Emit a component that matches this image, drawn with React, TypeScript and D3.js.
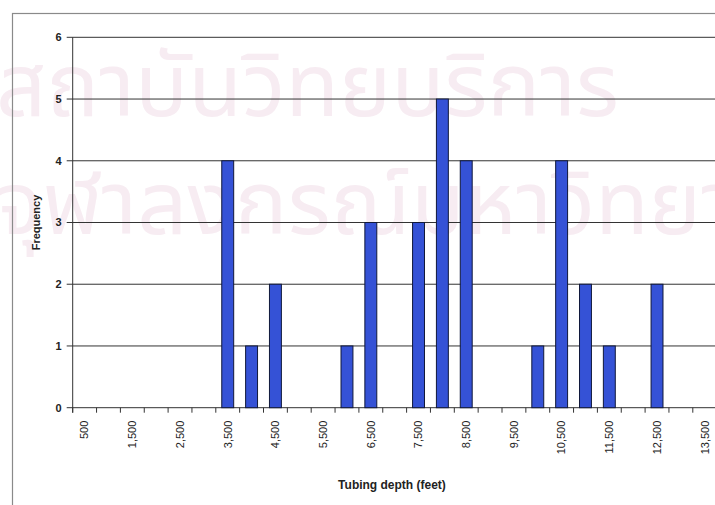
import React from "react";
import * as d3 from "d3";

const categories: number[] = [500,1000,1500,2000,2500,3000,3500,4000,4500,5000,5500,6000,6500,7000,7500,8000,8500,9000,9500,10000,10500,11000,11500,12000,12500,13000,13500];
const frequency: number[] = [0,0,0,0,0,0,4,1,2,0,0,1,3,0,3,5,4,0,0,1,4,2,1,0,2,0,0];
const yTicks: number[] = [0,1,2,3,4,5,6];
const labelEvery = 2;
const xTitle = "Tubing depth (feet)";
const yTitle = "Frequency";
const watermark1 = "สถาบันวิทยบริการ";
const watermark2 = "จุฬาลงกรณ์มหาวิทยาลัย";

export default function App() {
  const W = 715, H = 505;
  const left = 72.7, top = 37.3, bottom = 407.7;
  const step = 23.85;
  const right = left + categories.length * step;
  const x = d3.scaleBand<string>().domain(categories.map(String)).range([left, right]).padding(0);
  const y = d3.scaleLinear().domain([0, 6]).range([bottom, top]);
  const fmt = d3.format(",");
  const bw = x.bandwidth();
  const font = "'Liberation Sans', Arial, sans-serif";
  return (
    <svg width={W} height={H} style={{ position: "absolute", left: 0, top: 0, background: "#fff" }}>
      <rect x={0} y={0} width={W} height={H} fill="#fff" />
      <g fontFamily="'Noto Sans Thai', Loma, Garuda, 'Tlwg Typo', sans-serif" fill="#f7ecf2" fontSize={88}>
        <text x={-4} y={116}>{watermark1}</text>
        <text x={-4} y={234}>{watermark2}</text>
      </g>
      <rect x={12.5} y={13.5} width={730} height={520} fill="none" stroke="#8a8a8a" strokeWidth={1.2} />
      {yTicks.map((t) => (
        <g key={t}>
          <line x1={left - 6} x2={right} y1={y(t)} y2={y(t)} stroke="#333" strokeWidth={1} />
          <text x={left - 11} y={y(t)} dy="0.35em" textAnchor="end" fontFamily={font} fontSize={11} fontWeight="bold" fill="#222">{t}</text>
        </g>
      ))}
      <line x1={left} x2={left} y1={top} y2={bottom + 5} stroke="#333" strokeWidth={1} />
      {categories.map((c) => (
        <line key={"t" + c} x1={x(String(c))!} x2={x(String(c))!} y1={bottom} y2={bottom + 5} stroke="#333" strokeWidth={1} />
      ))}
      {categories.map((c, i) => {
        const v = frequency[i];
        if (!v) return null;
        const bx = x(String(c))! + bw * 0.25;
        return <rect key={"b" + c} x={bx} y={y(v)} width={bw * 0.5} height={y(0) - y(v)} fill="#3552d6" stroke="#10183a" strokeWidth={1} />;
      })}
      {categories.map((c, i) => {
        if (i % labelEvery !== 0) return null;
        const cx = x(String(c))! + bw / 2;
        return (
          <text key={"l" + c} transform={`translate(${cx},${bottom + 13}) rotate(-90)`} dy="0.35em" textAnchor="end" fontFamily={font} fontSize={11} fill="#222">{fmt(c)}</text>
        );
      })}
      <text transform={`translate(36.5,${(top + bottom) / 2}) rotate(-90)`} textAnchor="middle" dy="0.35em" fontFamily={font} fontSize={11} fontWeight="bold" fill="#222">{yTitle}</text>
      <text x={392} y={489} textAnchor="middle" fontFamily={font} fontSize={12} fontWeight="bold" fill="#222">{xTitle}</text>
    </svg>
  );
}
